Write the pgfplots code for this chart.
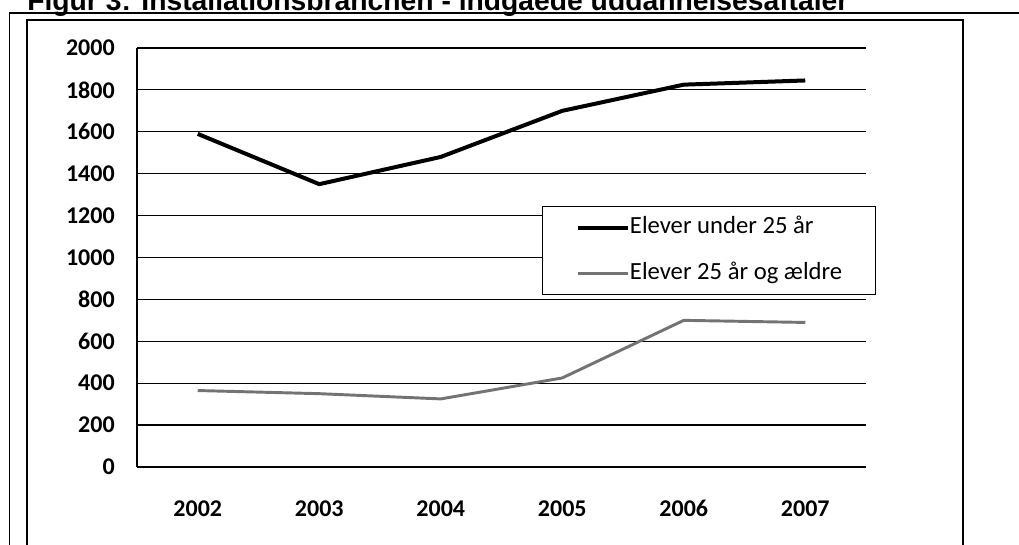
\documentclass[border=0pt]{standalone}
\usepackage{pgfplots}
\pgfplotsset{compat=1.18}
\usepackage{fontspec}
\setmainfont{Carlito}
\newfontfamily\titlefont{Liberation Sans}
\begin{document}
\begin{tikzpicture}
\useasboundingbox (0,0) rectangle (764.25pt,408.75pt);
\clip (0,0) rectangle (764.25pt,408.75pt);
\node[anchor=base west, inner sep=0pt] at (20.25pt,400.9pt) {\resizebox{615.75pt}{!}{\titlefont\bfseries Figur 3: Installationsbranchen - indgåede uddannelsesaftaler}};
\draw[line width=1.1pt] (7.1pt,-5pt) -- (7.1pt,399pt) -- (800pt,399pt);
\draw[line width=0.9pt] (20.25pt,-5pt) rectangle (722.25pt,393.75pt);
\begin{axis}[
  at={(102.75pt,58.5pt)}, anchor=south west,
  width=546.75pt, height=314.25pt, scale only axis,
  xmin=-0.5, xmax=5.5, ymin=0, ymax=2000,
  xtick={0,1,2,3,4,5},
  xticklabels={2002,2003,2004,2005,2006,2007},
  ytick={0,200,400,600,800,1000,1200,1400,1600,1800,2000},
  axis lines=left,
  axis line style={-, line width=0.9pt, black},
  major tick length=0pt, tick style={draw=none},
  ymajorgrids, grid style={black, line width=0.9pt},
  /pgf/number format/assume math mode=true,
  /pgf/number format/1000 sep={},
  yticklabel style={font=\bfseries\fontsize{18}{18}\selectfont, anchor=east, inner sep=0pt, xshift=-16.5pt},
  xticklabel style={font=\bfseries\fontsize{18}{18}\selectfont, anchor=north, inner sep=0pt, yshift=-24.75pt},
  legend image code/.code={\draw[#1] (0pt,0pt) -- (37.5pt,0pt);},
  legend cell align=left,
  legend style={at={(0.5556,0.6229)}, anchor=north west, draw=black, line width=0.9pt, fill=white,
    inner xsep=25pt, inner ysep=7pt, row sep=17pt,
    nodes={inner sep=0pt, text height=13.5pt, text depth=4pt, font=\fontsize{18.5}{18.5}\selectfont}},
]
\addplot[black, line width=3pt, line join=round] coordinates {(0,1590)(1,1350)(2,1480)(3,1700)(4,1825)(5,1845)};
\addlegendentry{Elever under 25 år}
\addplot[black!55, line width=2.2pt, line join=round] coordinates {(0,365)(1,350)(2,325)(3,425)(4,700)(5,690)};
\addlegendentry{Elever 25 år og ældre}
\end{axis}
\end{tikzpicture}
\end{document}
